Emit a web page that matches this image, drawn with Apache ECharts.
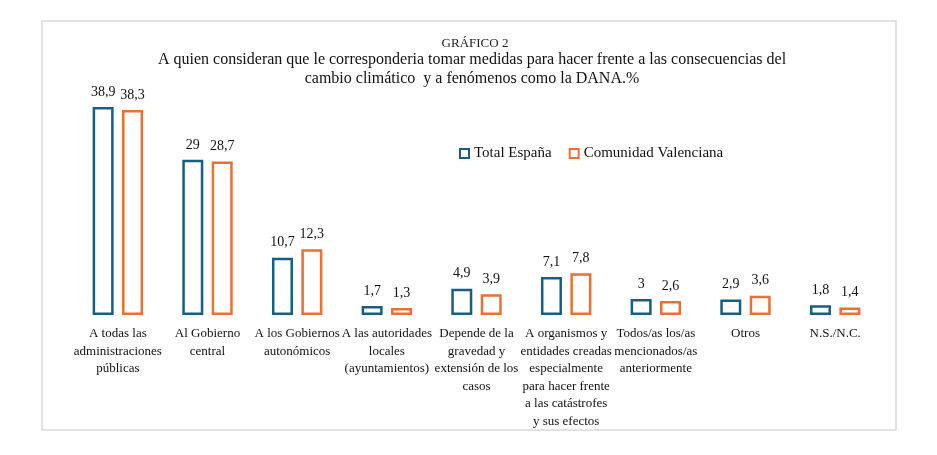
<!DOCTYPE html>
<html>
<head>
<meta charset="utf-8">
<script src="https://cdn.jsdelivr.net/npm/echarts@6/dist/echarts.min.js"></script>
<style>
  html, body { margin: 0; padding: 0; background: #fff; }
  #chart { width: 937px; height: 455px; }
</style>
</head>
<body>
<div id="chart"></div>
<script>
// categorias del eje x (con saltos de linea como en el original)
var categorias = [
	'A todas las\nadministraciones\npúblicas',
	'Al Gobierno\ncentral',
	'A los Gobiernos\nautonómicos',
	'A las autoridades\nlocales\n(ayuntamientos)',
	'Depende de la\ngravedad y\nextensión de los\ncasos',
	'A organismos y\nentidades creadas\nespecialmente\npara hacer frente\na las catástrofes\ny sus efectos',
	'Todos/as los/as\nmencionados/as\nanteriormente',
	'Otros',
	'N.S./N.C.'
];
var totalEspana = [38.9, 29, 10.7, 1.7, 4.9, 7.1, 3, 2.9, 1.8];
var comunidadValenciana = [38.3, 28.7, 12.3, 1.3, 3.9, 7.8, 2.6, 3.6, 1.4];

var fuente = 'Liberation Serif';
var azul = '#156082';
var naranja = '#E97132';

var myChart = echarts.init(document.getElementById('chart'));

// etiqueta con coma decimal
function etiqueta(p) {
	return String(p.value).replace('.', ',');
}

var option = {
	animation: false,
	backgroundColor: '#fff',
	graphic: [{
		type: 'rect',
		z: -10,
		shape: { x: 42, y: 21, width: 854, height: 409 },
		style: { fill: 'none', stroke: '#d9d9d9', lineWidth: 1.5 }
	}],
	title: [{
		text: 'GRÁFICO 2',
		left: 470,
		top: 32,
		textAlign: 'center',
		textStyle: { fontFamily: fuente, fontSize: 13, fontWeight: 'normal', color: '#222' }
	}, {
		text: 'A quien consideran que le corresponderia tomar medidas para hacer frente a las consecuencias del\ncambio climático  y a fenómenos como la DANA.%',
		left: 467,
		top: 45,
		textAlign: 'center',
		textStyle: { fontFamily: fuente, fontSize: 16, lineHeight: 19, fontWeight: 'normal', color: '#111' }
	}],
	legend: {
		left: 454,
		top: 141,
		icon: 'rect',
		itemWidth: 9,
		itemHeight: 9,
		itemGap: 17,
		textStyle: { fontFamily: fuente, fontSize: 15, color: '#111' },
		data: ['Total España', 'Comunidad Valenciana']
	},
	grid: { left: 73, right: 57, top: 101, bottom: 140 },
	xAxis: {
		type: 'category',
		data: categorias,
		axisLine: { show: false },
		axisTick: { show: false },
		axisLabel: {
			interval: 0,
			margin: 10,
			fontFamily: fuente,
			fontSize: 13,
			lineHeight: 17.5,
			color: '#111'
		}
	},
	yAxis: {
		type: 'value',
		min: 0,
		max: 40,
		show: false
	},
	series: [{
		name: 'Total España',
		type: 'bar',
		data: totalEspana,
		barWidth: 21,
		barGap: '40%',
		itemStyle: { color: '#fff', borderColor: azul, borderWidth: 2.5 },
		label: {
			show: true,
			position: 'top',
			distance: 8,
			formatter: etiqueta,
			fontFamily: fuente,
			fontSize: 14,
			color: '#111'
		}
	}, {
		name: 'Comunidad Valenciana',
		type: 'bar',
		data: comunidadValenciana,
		barWidth: 21,
		itemStyle: { color: '#fff', borderColor: naranja, borderWidth: 2.5 },
		label: {
			show: true,
			position: 'top',
			distance: 8,
			formatter: etiqueta,
			fontFamily: fuente,
			fontSize: 14,
			color: '#111'
		}
	}]
};

myChart.setOption(option);
</script>
</body>
</html>
